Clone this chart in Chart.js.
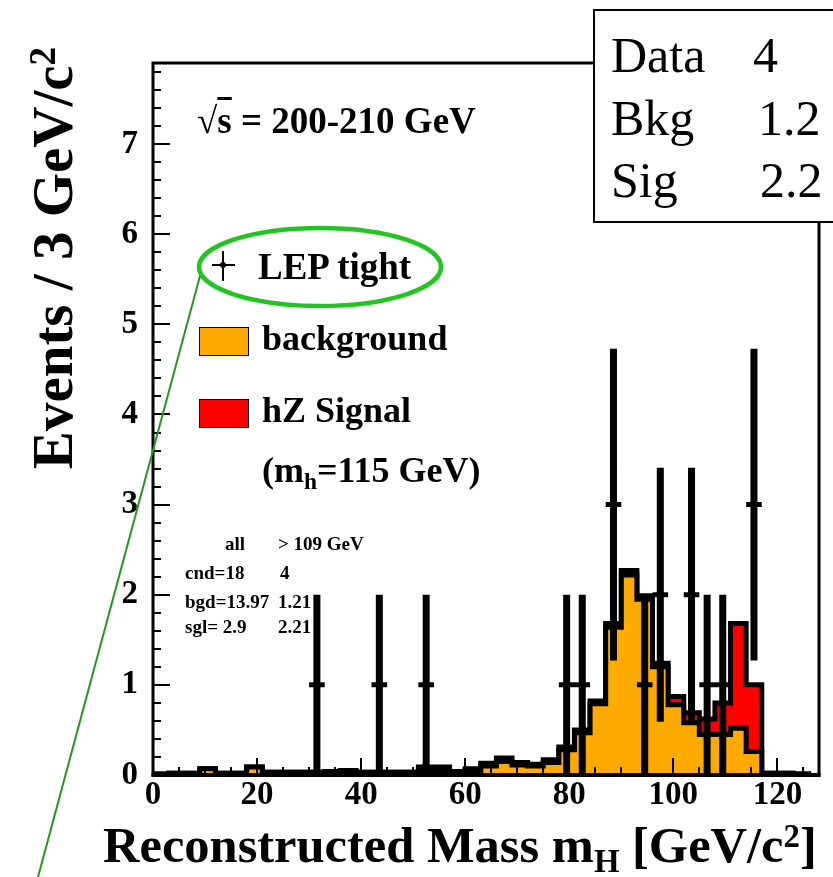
<!DOCTYPE html>
<html>
<head>
<meta charset="utf-8">
<script src="https://cdn.jsdelivr.net/npm/chart.js@4.4.0/dist/chart.umd.min.js"></script>
<style>
  html, body { margin: 0; padding: 0; background: #fff; }
  #wrap { position: relative; width: 833px; height: 877px; overflow: hidden;
          font-family: "Liberation Serif", "Times New Roman", serif; color: #000; }
  #wrap canvas, #wrap svg { position: absolute; left: 0; top: 0; }
  .t { position: absolute; white-space: nowrap; line-height: 1; font-weight: bold; }
  .lg { font-size: 36px; }
  .st { font-size: 19px; }
  .bx { font-size: 50px; font-weight: normal; }
  .sub { font-size: 0.65em; position: relative; top: 0.3em; }
  .sup { font-size: 0.65em; position: relative; top: -0.45em; }
  .swatch { position: absolute; width: 50px; height: 29px; border: 1.5px solid #000; box-sizing: border-box; }
  #numbox { position: absolute; left: 593px; top: 9px; width: 280px; height: 214px;
            border: 2px solid #000; background: #fff; box-sizing: border-box; }
  #ytitle { position: absolute; left: 52px; top: 258px; font-size: 57px;
            transform: translate(-50%, -50%) rotate(-90deg); }
</style>
</head>
<body>
<div id="wrap">
  <canvas id="massChart" width="833" height="877"></canvas>

  <svg width="833" height="877">
    <!-- data marker used in the legend -->
    <line x1="223" y1="251" x2="223" y2="281" stroke="#000" stroke-width="2"/>
    <line x1="212" y1="265" x2="235" y2="265" stroke="#000" stroke-width="2"/>
    <circle cx="223" cy="265" r="3" fill="#000"/>
    <!-- green call-out -->
    <ellipse cx="320" cy="267" rx="121" ry="39" fill="none" stroke="#22c422" stroke-width="4.5"/>
    <line x1="200" y1="276" x2="38" y2="877" stroke="#1f9a1f" stroke-width="2"/>
  </svg>

  <div class="t" style="left:197px; top:102px; font-size:37px;">&radic;<span style="text-decoration: overline;">s</span> = 200-210 GeV</div>

  <div class="t lg" style="left:258px; top:248px; font-size:37px;">LEP tight</div>
  <div class="swatch" style="left:199px; top:327px; background:#ffaa00;"></div>
  <div class="t lg" style="left:262px; top:320px;">background</div>
  <div class="swatch" style="left:199px; top:399px; background:#ff0000;"></div>
  <div class="t lg" style="left:262px; top:392px;">hZ Signal</div>
  <div class="t lg" style="left:262px; top:452px;">(m<span class="sub">h</span>=115 GeV)</div>

  <div class="t st" style="left:225px; top:534px;">all</div>
  <div class="t st" style="left:278px; top:534px;">&gt; 109 GeV</div>
  <div class="t st" style="left:185px; top:563px;">cnd=18</div>
  <div class="t st" style="left:280px; top:563px;">4</div>
  <div class="t st" style="left:185px; top:592px;">bgd=13.97</div>
  <div class="t st" style="left:278px; top:592px;">1.21</div>
  <div class="t st" style="left:185px; top:617px;">sgl= 2.9</div>
  <div class="t st" style="left:278px; top:617px;">2.21</div>

  <div id="numbox"></div>
  <div class="t bx" style="left:611px; top:30px;">Data</div>
  <div class="t bx" style="left:753px; top:30px;">4</div>
  <div class="t bx" style="left:611px; top:93px;">Bkg</div>
  <div class="t bx" style="left:758px; top:93px;">1.2</div>
  <div class="t bx" style="left:611px; top:155px;">Sig</div>
  <div class="t bx" style="left:760px; top:155px;">2.2</div>

  <div class="t" style="left:103px; top:820px; font-size:50.5px;">Reconstructed Mass m<span class="sub">H</span> [GeV/c<span class="sup">2</span>]</div>
  <div class="t" id="ytitle">Events / 3 GeV/c<span class="sup">2</span></div>
</div>

<script>
// Histogram binning (GeV)
var BIN_WIDTH = 3;
var X_MAX = 128;
var Y_MAX = 7.9;

// Expected background per 3 GeV bin, 0-126 GeV
var background = [
	0.01, 0.02, 0.02, 0.07, 0.02, 0.02, 0.09, 0.03, 0.03, 0.03,
	0.03, 0.04, 0.05, 0.03, 0.03, 0.03, 0.03, 0.05, 0.05, 0.03,
	0.05, 0.10, 0.15, 0.11, 0.10, 0.14, 0.28, 0.47, 0.79, 1.64,
	2.22, 1.95, 1.20, 0.78, 0.58, 0.45, 0.45, 0.52, 0.26, 0.02,
	0.02, 0.01
];

// hZ signal (m_h = 115 GeV) on top of the background
var signal = [
	0, 0, 0, 0, 0, 0, 0, 0, 0, 0,
	0, 0, 0, 0, 0, 0, 0, 0.04, 0.04, 0.01,
	0.02, 0.03, 0.04, 0.03, 0.02, 0.03, 0.03, 0.03, 0.03, 0.04,
	0.05, 0.04, 0.04, 0.09, 0.11, 0.17, 0.35, 1.16, 0.74, 0,
	0, 0
];

// LEP tight candidates: bin centre, entries and error
var dataMass = [31.5, 43.5, 52.5, 79.5, 82.5, 88.5, 94.5, 97.5, 103.5, 106.5, 109.5, 115.5];
var dataCount = [1, 1, 1, 1, 1, 3, 1, 2, 2, 1, 1, 3];
var dataError = [1, 1, 1, 1, 1, 1.73, 1, 1.41, 1.41, 1, 1, 1.73];

// Tick values
var xTickStep = 20;
var yTickStep = 1;

/**
 * Turn per-bin contents into a closed step outline (left bin edges).
 */
var histPoints = function(values) {
	var pts = [{x: 0, y: 0}];
	values.forEach(function(v, i) {
		pts.push({x: i * BIN_WIDTH, y: v});
	});
	var end = values.length * BIN_WIDTH;
	pts.push({x: end, y: values[values.length - 1]});
	pts.push({x: end, y: 0});
	return pts;
};

var total = background.map(function(v, i) { return v + signal[i]; });

// Vertical error bars and the short horizontal marks at each value,
// broken up with null points so each one is a separate segment.
var errorBars = [];
var valueMarks = [];
dataMass.forEach(function(m, i) {
	errorBars.push({x: m, y: Math.max(0, dataCount[i] - dataError[i])});
	errorBars.push({x: m, y: dataCount[i] + dataError[i]});
	errorBars.push({x: m, y: null});
	valueMarks.push({x: m - BIN_WIDTH / 2, y: dataCount[i]});
	valueMarks.push({x: m + BIN_WIDTH / 2, y: dataCount[i]});
	valueMarks.push({x: m, y: null});
});

// Frame and inward-pointing ticks, ROOT style
var frameTicks = {
	id: 'frameTicks',
	afterDatasetsDraw: function(chart) {
		var ctx = chart.ctx;
		var a = chart.chartArea;
		var x = chart.scales.x;
		var y = chart.scales.y;
		var i, p, len;

		ctx.save();
		ctx.strokeStyle = '#000';
		ctx.lineWidth = 2;
		ctx.beginPath();
		for (i = 0; i * 0.2 <= Y_MAX; i++) {
			p = Math.round(y.getPixelForValue(i * 0.2));
			len = (i % 5 === 0) ? 17 : 8;
			ctx.moveTo(a.left, p);
			ctx.lineTo(a.left + len, p);
		}
		for (i = 0; i * 5 <= X_MAX; i++) {
			p = Math.round(x.getPixelForValue(i * 5));
			len = (i % 4 === 0) ? 17 : 8;
			ctx.moveTo(p, a.bottom);
			ctx.lineTo(p, a.bottom - len);
		}
		ctx.stroke();

		ctx.lineWidth = 3;
		ctx.strokeRect(a.left, a.top, a.right - a.left, a.bottom - a.top);
		ctx.lineWidth = 4;
		ctx.beginPath();
		ctx.moveTo(a.left - 1.5, a.bottom);
		ctx.lineTo(a.right + 1.5, a.bottom);
		ctx.stroke();
		ctx.restore();
	}
};

var tickFont = {family: "'Liberation Serif', 'Times New Roman', serif", size: 33, weight: 'bold'};

var chart = new Chart(document.getElementById('massChart').getContext('2d'), {
	type: 'line',
	data: {
		datasets: [{
			// data marks on top
			data: valueMarks,
			borderColor: '#000',
			borderWidth: 5,
			borderCapStyle: 'butt',
			pointRadius: 0,
			fill: false,
			spanGaps: false,
			order: 0
		}, {
			data: errorBars,
			borderColor: '#000',
			borderWidth: 7,
			borderCapStyle: 'butt',
			pointRadius: 0,
			fill: false,
			spanGaps: false,
			order: 1
		}, {
			// background histogram
			data: histPoints(background),
			stepped: 'before',
			borderColor: '#000',
			borderWidth: 5,
			borderJoinStyle: 'miter',
			backgroundColor: '#ffaa00',
			fill: 'origin',
			pointRadius: 0,
			order: 2
		}, {
			// background + signal
			data: histPoints(total),
			stepped: 'before',
			borderColor: '#000',
			borderWidth: 5,
			borderJoinStyle: 'miter',
			backgroundColor: '#ff0000',
			fill: 'origin',
			pointRadius: 0,
			order: 3
		}]
	},
	options: {
		responsive: false,
		devicePixelRatio: 1,
		animation: false,
		events: [],
		layout: {
			padding: {top: 63, right: 14, left: 0, bottom: 0}
		},
		plugins: {
			legend: {display: false},
			tooltip: {enabled: false},
			title: {display: false}
		},
		scales: {
			x: {
				type: 'linear',
				min: 0,
				max: X_MAX,
				grid: {display: false, drawTicks: false},
				border: {display: false},
				ticks: {
					stepSize: xTickStep,
					includeBounds: false,
					autoSkip: false,
					maxRotation: 0,
					padding: 1,
					color: '#000',
					font: tickFont
				},
				afterFit: function(scale) { scale.height = 102; }
			},
			y: {
				type: 'linear',
				min: 0,
				max: Y_MAX,
				grid: {display: false, drawTicks: false},
				border: {display: false},
				ticks: {
					stepSize: yTickStep,
					includeBounds: false,
					padding: 15,
					color: '#000',
					font: tickFont
				},
				afterFit: function(scale) { scale.width = 153; }
			}
		}
	},
	plugins: [frameTicks]
});
</script>
</body>
</html>
